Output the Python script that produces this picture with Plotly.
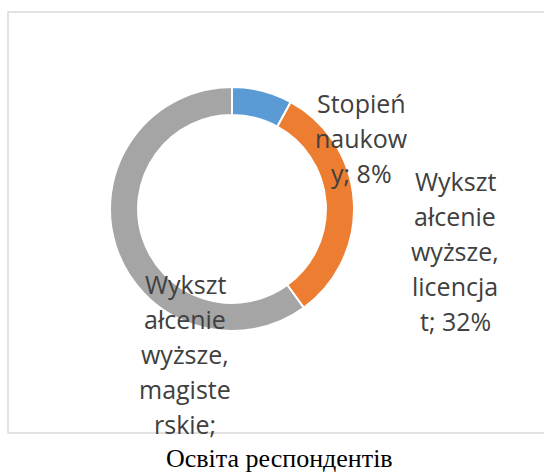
import plotly.graph_objects as go

# ---- data ----
categories = ["Stopień naukowy", "Wykształcenie wyższe, licencjat", "Wykształcenie wyższe, magisterskie"]
values = [8, 32, 60]
colors = ["#5B9BD5", "#ED7D31", "#A5A5A5"]
label_lines = [
    ["Stopień", "naukow", "y; 8%"],
    ["Wykszt", "ałcenie", "wyższe,", "licencja", "t; 32%"],
    ["Wykszt", "ałcenie", "wyższe,", "magiste", "rskie;", "60%"],
]
title_text = "Освіта респондентів"

# ---- layout geometry (pixels) ----
W, H = 544, 474
cx, cy, r = 232, 209, 122
box_left, box_top, box_bottom = 8, 12, 433
label_first_line = [(361, 103), (455, 181), (185, 284)]
line_step = 35

fig = go.Figure(go.Pie(
    labels=categories,
    values=values,
    sort=False,
    direction="clockwise",
    rotation=0,
    hole=0.77,
    marker=dict(colors=colors, line=dict(color="white", width=2)),
    textinfo="none",
    showlegend=False,
    domain=dict(x=[(cx - r) / W, (cx + r) / W], y=[1 - (cy + r) / H, 1 - (cy - r) / H]),
))

annotations = []
for lines, (px, py) in zip(label_lines, label_first_line):
    for i, line in enumerate(lines):
        y = py + i * line_step
        if y > box_bottom:
            continue  # clipped by chart area
        annotations.append(dict(
            text=line, x=px / W, y=1 - y / H, xref="paper", yref="paper",
            xanchor="center", yanchor="middle", showarrow=False,
            font=dict(family="Open Sans", size=25, color="#404040"),
        ))

annotations.append(dict(
    text=title_text, x=279 / W, y=1 - 458 / H, xref="paper", yref="paper",
    xanchor="center", yanchor="middle", showarrow=False,
    font=dict(family="Liberation Serif", size=26, color="#000000"),
))

fig.update_layout(
    width=W, height=H,
    margin=dict(l=0, r=0, t=0, b=0),
    paper_bgcolor="white", plot_bgcolor="white",
    annotations=annotations,
    shapes=[dict(type="rect", xref="paper", yref="paper",
                 x0=box_left / W, x1=1.05, y0=1 - box_bottom / H, y1=1 - box_top / H,
                 line=dict(color="#D9D9D9", width=1.5), layer="below")],
)

fig.write_html("out.html", config={"displayModeBar": False},
               post_script="document.body.style.margin='0px';")
